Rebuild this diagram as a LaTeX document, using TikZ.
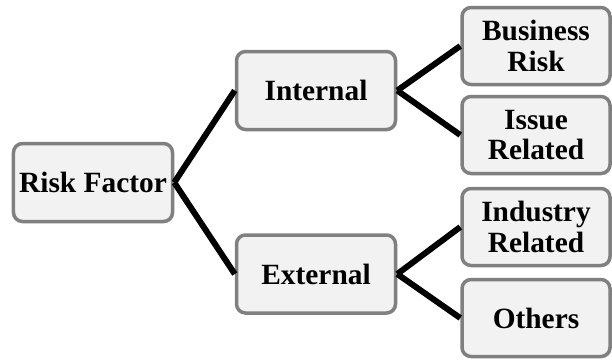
\documentclass[tikz,border=0pt]{standalone}
\usepackage{fontspec}
\setmainfont{Liberation Serif}
\usetikzlibrary{shadows}
\definecolor{boxgray}{RGB}{128,128,128}
\definecolor{boxfill}{RGB}{242,242,242}
\tikzset{
  box/.style={draw=boxgray, fill=boxfill, line width=3.5bp, rounded corners=9bp,
    minimum width=159bp, minimum height=78bp, inner sep=0pt, align=center,
    font=\fontsize{29.5}{31}\selectfont\bfseries,
    drop shadow={opacity=0.25, shadow xshift=1.5bp, shadow yshift=-1.5bp}},
  leaf/.style={box, minimum width=148bp, minimum height=77bp},
  link/.style={line width=6bp}
}
\begin{document}
\begin{tikzpicture}[x=1bp, y=-1bp]
    \useasboundingbox (0,0) rectangle (612,363);
    \node[box] (p0) at (93,182.5) {Risk Factor};
      \node[box, right of=p0, node distance=223bp, yshift=92bp] (p1) {Internal};
      \node[box, right of=p0, node distance=223bp, yshift=-91.5bp] (p2) {External};
      \node[leaf, right of=p1, node distance=220bp, yshift=44.5bp] (p3) {Business\\Risk};
      \node[leaf, right of=p1, node distance=220bp, yshift=-44.5bp] (p4) {Issue\\Related};
      \node[leaf, right of=p2, node distance=220bp, yshift=47bp] (p5) {Industry\\Related};
      \node[leaf, right of=p2, node distance=220bp, yshift=-44bp] (p6) {Others};
      \path[link] (p0.east) edge (p1.west);
      \path[link] (p0.east) edge (p2.west);
      \path[link] (p1.east) edge (p3.west);
      \path[link] (p1.east) edge (p4.west);
      \path[link] (p2.east) edge (p5.west);
      \path[link] (p2.east) edge (p6.west);
    \end{tikzpicture}
\end{document}
